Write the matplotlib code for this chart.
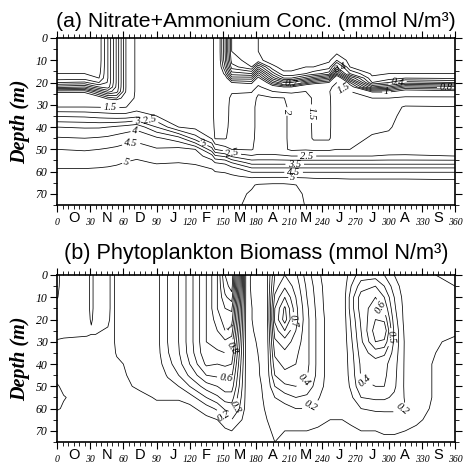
import numpy as np
import matplotlib
matplotlib.use('Agg')
import matplotlib.pyplot as plt
from matplotlib.ticker import MultipleLocator
from matplotlib.transforms import blended_transform_factory

# ---------------- data ----------------
months = ['O', 'N', 'D', 'J', 'F', 'M', 'A', 'M', 'J', 'J', 'A', 'S']
day_ticks = [0, 30, 60, 90, 120, 150, 180, 210, 240, 270, 300, 330, 360]
depth_ticks = [0, 10, 20, 30, 40, 50, 60, 70]

# (a) nitrate + ammonium : one profile per day, values at depth_a
depth_a = [0, 6, 10, 13, 16, 18, 20, 22, 24, 27, 31, 35, 40, 45, 50, 53, 56, 59, 62, 66, 70, 75]
days_a = [0, 25, 38, 46, 54, 62, 72, 90, 110, 125, 140, 143, 152, 158, 176, 182,
          195, 205, 212, 225, 232, 246, 253, 265, 285, 300, 315, 360]
nitrate = [
    [0.04,0.04,0.05,0.07,0.10,0.14,0.30,0.55,0.95,1.25,1.50,2.45,3.50,4.05,4.50,4.70,4.85,5.02,5.12,5.20,5.27,5.32],
    [0.04,0.04,0.05,0.07,0.10,0.15,0.32,0.60,0.95,1.25,1.50,2.40,3.45,4.00,4.45,4.68,4.85,5.02,5.12,5.20,5.27,5.32],
    [0.04,0.04,0.04,0.05,0.07,0.10,0.20,0.40,0.70,1.10,1.48,2.30,3.45,4.05,4.50,4.72,4.88,5.04,5.13,5.20,5.27,5.32],
    [0.30,0.30,0.30,0.30,0.30,0.30,0.31,0.35,0.55,0.95,1.45,2.25,3.50,4.10,4.55,4.78,4.92,5.05,5.14,5.20,5.27,5.32],
    [0.62,0.62,0.62,0.62,0.62,0.62,0.62,0.63,0.66,0.90,1.45,2.20,3.60,4.20,4.60,4.82,4.96,5.07,5.15,5.20,5.27,5.32],
    [0.98,0.98,0.98,0.98,0.98,0.98,0.98,0.98,0.99,1.10,1.48,2.20,3.70,4.30,4.68,4.90,5.01,5.10,5.16,5.22,5.28,5.33],
    [1.60,1.60,1.60,1.60,1.60,1.60,1.60,1.60,1.60,1.62,1.72,2.35,3.85,4.35,4.75,4.95,5.05,5.12,5.18,5.24,5.29,5.34],
    [1.65,1.65,1.65,1.65,1.65,1.65,1.65,1.65,1.65,1.65,1.72,2.00,3.00,4.10,4.55,4.80,4.98,5.10,5.16,5.22,5.28,5.33],
    [1.70,1.70,1.70,1.70,1.70,1.70,1.70,1.70,1.70,1.70,1.70,1.75,2.00,3.70,4.65,4.85,5.00,5.10,5.16,5.22,5.28,5.33],
    [1.72,1.72,1.72,1.72,1.72,1.72,1.72,1.72,1.72,1.72,1.72,1.75,1.85,2.75,4.50,4.75,4.97,5.08,5.15,5.22,5.28,5.33],
    [1.72,1.72,1.72,1.72,1.72,1.72,1.72,1.72,1.72,1.72,1.72,1.72,1.80,1.95,3.20,4.20,4.75,5.02,5.12,5.20,5.27,5.33],
    [1.30,1.30,1.30,1.30,1.30,1.30,1.30,1.30,1.30,1.30,1.30,1.30,1.35,1.45,2.50,3.60,4.50,4.95,5.10,5.20,5.27,5.33],
    [0.70,0.70,0.72,0.80,0.95,1.10,1.25,1.30,1.30,1.30,1.30,1.32,1.38,1.45,2.20,3.40,4.40,4.90,5.10,5.22,5.30,5.36],
    [0.20,0.20,0.25,0.35,0.55,0.75,1.00,1.25,1.45,1.60,1.65,1.65,1.65,1.70,2.00,2.90,4.00,4.80,5.05,5.25,5.35,5.40],
    [0.15,0.15,0.15,0.20,0.50,0.75,0.95,1.15,1.45,1.75,1.80,1.80,1.80,1.85,1.95,2.55,3.30,4.20,4.90,5.45,5.55,5.60],
    [0.10,0.10,0.12,0.50,0.85,1.05,1.30,1.60,1.90,2.10,2.20,2.20,2.20,2.20,2.20,2.60,3.30,4.20,4.90,5.55,5.65,5.70],
    [0.05,0.05,0.06,0.12,0.35,0.55,0.80,1.10,1.50,2.05,2.20,2.20,2.20,2.20,2.20,2.60,3.30,4.20,4.90,5.60,5.70,5.75],
    [0.05,0.05,0.05,0.07,0.12,0.30,0.60,1.00,1.40,2.02,2.15,2.15,2.15,2.15,2.10,2.55,3.30,4.20,4.90,5.60,5.70,5.75],
    [0.05,0.05,0.05,0.07,0.12,0.30,0.60,1.00,1.40,1.80,1.80,1.80,1.80,1.80,1.90,2.50,3.30,4.20,4.90,5.55,5.65,5.70],
    [0.05,0.05,0.06,0.10,0.20,0.45,0.80,1.20,1.50,1.80,1.80,1.80,1.80,1.80,1.95,2.50,3.30,4.20,4.90,5.40,5.45,5.48],
    [0.05,0.05,0.06,0.10,0.25,0.55,0.90,1.25,1.45,1.40,1.40,1.40,1.40,1.42,1.90,2.50,3.30,4.20,4.90,5.30,5.35,5.40],
    [0.05,0.05,0.08,0.15,0.35,0.70,1.00,1.30,1.45,1.40,1.40,1.40,1.40,1.42,1.90,2.50,3.30,4.20,4.90,5.25,5.30,5.35],
    [0.05,0.06,0.20,0.50,0.85,1.20,1.50,1.80,1.90,1.90,1.85,1.85,1.85,1.90,2.00,2.50,3.30,4.20,4.90,5.25,5.30,5.35],
    [0.05,0.05,0.06,0.10,0.30,0.60,0.90,1.10,1.50,1.80,1.80,1.80,1.80,1.85,2.00,2.50,3.30,4.20,4.90,5.20,5.28,5.33],
    [0.04,0.04,0.04,0.05,0.08,0.12,0.20,0.50,0.95,1.50,1.75,1.80,1.90,2.05,2.20,2.50,3.30,4.20,4.90,5.20,5.28,5.33],
    [0.04,0.04,0.04,0.05,0.10,0.15,0.30,0.60,0.95,1.50,1.80,1.85,1.95,2.10,2.25,2.55,3.30,4.20,4.90,5.20,5.28,5.33],
    [0.04,0.04,0.04,0.06,0.10,0.20,0.45,0.80,1.10,1.60,2.05,2.15,2.20,2.25,2.30,2.55,3.30,4.20,4.90,5.20,5.28,5.33],
    [0.04,0.04,0.04,0.06,0.10,0.18,0.40,0.75,1.05,1.60,2.02,2.10,2.15,2.20,2.30,2.50,3.30,4.20,4.90,5.15,5.25,5.30],
]

# (b) phytoplankton : one profile per day, values at depth_b
depth_b = [0, 5, 10, 15, 20, 25, 30, 35, 40, 45, 50, 55, 60, 65, 70, 75]
days_b = [0, 6, 27, 31, 35, 46, 50, 54, 75, 90, 94, 100, 110, 120, 135, 145, 152, 158,
          171, 180, 190, 197, 206, 216, 226, 236, 247, 258, 266, 275, 288, 296, 305, 315, 325, 360]
phyto = [
    [0.08,0.085,0.095,0.13,0.13,0.12,0.095,0.07,0.07,0.07,0.11,0.12,0.11,0.05,0.05,0.05],
    [0.13,0.13,0.13,0.13,0.13,0.12,0.09,0.07,0.07,0.07,0.08,0.105,0.09,0.05,0.05,0.05],
    [0.13,0.13,0.13,0.13,0.13,0.12,0.08,0.07,0.07,0.07,0.07,0.06,0.06,0.05,0.05,0.05],
    [0.08,0.08,0.08,0.08,0.09,0.11,0.08,0.07,0.07,0.07,0.07,0.06,0.06,0.05,0.05,0.05],
    [0.13,0.13,0.13,0.13,0.13,0.11,0.08,0.07,0.07,0.07,0.07,0.06,0.06,0.05,0.05,0.05],
    [0.13,0.13,0.13,0.13,0.12,0.09,0.07,0.07,0.07,0.07,0.07,0.06,0.06,0.05,0.05,0.05],
    [0.07,0.07,0.07,0.07,0.07,0.07,0.07,0.07,0.07,0.07,0.06,0.06,0.06,0.05,0.05,0.05],
    [0.13,0.13,0.13,0.13,0.13,0.13,0.13,0.11,0.08,0.07,0.06,0.06,0.06,0.05,0.05,0.05],
    [0.15,0.15,0.15,0.15,0.15,0.15,0.15,0.15,0.15,0.14,0.12,0.07,0.06,0.05,0.05,0.05],
    [0.16,0.16,0.16,0.16,0.16,0.16,0.16,0.16,0.16,0.15,0.14,0.11,0.07,0.05,0.05,0.05],
    [0.22,0.22,0.22,0.22,0.22,0.22,0.22,0.21,0.19,0.16,0.14,0.11,0.07,0.05,0.05,0.05],
    [0.30,0.30,0.30,0.30,0.30,0.30,0.30,0.29,0.26,0.21,0.16,0.11,0.07,0.05,0.05,0.05],
    [0.40,0.40,0.40,0.40,0.40,0.40,0.40,0.39,0.36,0.30,0.20,0.11,0.07,0.05,0.05,0.05],
    [0.55,0.55,0.55,0.55,0.55,0.55,0.55,0.54,0.50,0.42,0.30,0.15,0.07,0.05,0.05,0.05],
    [0.80,0.80,0.80,0.80,0.80,0.80,0.80,0.78,0.72,0.60,0.45,0.30,0.15,0.07,0.05,0.05],
    [1.00,1.00,1.00,1.00,0.95,0.90,0.85,0.78,0.70,0.62,0.50,0.38,0.22,0.10,0.06,0.05],
    [1.30,1.25,1.18,1.10,1.05,1.00,0.88,0.80,0.72,0.62,0.55,0.45,0.32,0.16,0.08,0.05],
    [1.40,1.35,1.25,1.12,1.05,0.95,0.85,0.78,0.70,0.62,0.55,0.45,0.35,0.20,0.10,0.06],
    [0.07,0.07,0.07,0.07,0.07,0.07,0.07,0.07,0.07,0.07,0.07,0.07,0.07,0.06,0.05,0.05],
    [0.14,0.14,0.13,0.12,0.12,0.11,0.10,0.09,0.08,0.08,0.07,0.07,0.07,0.06,0.05,0.05],
    [0.18,0.18,0.18,0.17,0.17,0.16,0.16,0.15,0.15,0.14,0.13,0.12,0.11,0.10,0.09,0.08],
    [0.50,0.55,0.62,0.70,0.72,0.65,0.58,0.52,0.46,0.40,0.30,0.20,0.14,0.12,0.11,0.10],
    [0.60,0.68,0.80,0.92,0.95,0.80,0.65,0.58,0.53,0.47,0.38,0.25,0.16,0.12,0.10,0.09],
    [0.52,0.56,0.60,0.63,0.64,0.60,0.56,0.52,0.50,0.46,0.40,0.30,0.20,0.13,0.10,0.09],
    [0.35,0.38,0.40,0.42,0.43,0.43,0.43,0.43,0.43,0.41,0.36,0.28,0.20,0.13,0.10,0.08],
    [0.22,0.24,0.25,0.26,0.27,0.27,0.27,0.27,0.27,0.27,0.25,0.21,0.17,0.12,0.09,0.08],
    [0.13,0.13,0.13,0.13,0.14,0.14,0.14,0.14,0.14,0.14,0.14,0.13,0.12,0.10,0.08,0.07],
    [0.12,0.12,0.12,0.12,0.12,0.12,0.12,0.12,0.12,0.12,0.12,0.12,0.11,0.10,0.09,0.08],
    [0.25,0.30,0.35,0.35,0.32,0.30,0.28,0.26,0.25,0.24,0.22,0.18,0.14,0.11,0.09,0.08],
    [0.35,0.45,0.55,0.55,0.52,0.50,0.48,0.45,0.42,0.41,0.38,0.30,0.20,0.13,0.10,0.08],
    [0.35,0.50,0.60,0.65,0.70,0.75,0.70,0.55,0.45,0.42,0.40,0.32,0.22,0.14,0.10,0.08],
    [0.30,0.40,0.50,0.58,0.68,0.78,0.68,0.52,0.43,0.42,0.40,0.32,0.22,0.15,0.11,0.08],
    [0.20,0.25,0.30,0.32,0.35,0.38,0.38,0.36,0.34,0.33,0.32,0.28,0.22,0.15,0.11,0.08],
    [0.13,0.14,0.15,0.16,0.16,0.17,0.18,0.18,0.18,0.18,0.18,0.19,0.20,0.15,0.10,0.08],
    [0.12,0.13,0.14,0.14,0.14,0.13,0.12,0.12,0.12,0.12,0.12,0.12,0.12,0.11,0.09,0.07],
    [0.08,0.10,0.13,0.14,0.13,0.11,0.09,0.08,0.07,0.07,0.07,0.07,0.06,0.05,0.05,0.05],
]

levels_a = [0.1, 0.2, 0.3, 0.4, 0.5, 0.6, 0.7, 0.8, 0.9, 1.0, 1.5, 2.0, 2.5, 3.0, 3.5, 4.0, 4.5, 5.0, 5.5]
levels_b = [0.1, 0.2, 0.3, 0.4, 0.5, 0.6, 0.7, 0.8, 0.9, 1.0, 1.1, 1.2, 1.3]

# label positions (day, depth)
labels_a = [(48, 31.5), (84, 36), (72, 37.5), (70, 41), (67, 47), (62, 54.5), (132, 48),
            (158, 52), (205, 33), (230, 34), (258, 24), (212, 20.5), (256, 13.6),
            (308, 20), (352, 22.5), (298, 24.5), (226, 53.6), (215, 57), (214, 60), (213, 63.6)]
labels_b = [(155, 24), (158, 33), (153, 47), (158, 59), (150, 64), (215, 21), (226, 49),
            (231, 60), (288, 16), (278, 47.5), (312, 60), (302, 28)]

# ---------------- figure ----------------
fig = plt.figure(figsize=(4.65, 4.66), dpi=100)
ax1 = fig.add_axes([0.1226, 0.560, 0.856, 0.3585])
ax2 = fig.add_axes([0.1226, 0.0515, 0.856, 0.3584])

serif = 'Liberation Serif'
sans = 'Liberation Sans'


def style(ax, title, tpad, tsize):
    ax.set_xlim(0, 360)
    ax.set_ylim(75, 0)
    ax.set_xticks(day_ticks)
    ax.set_xticklabels([str(d) for d in day_ticks], fontfamily=serif, fontstyle='italic', fontsize=7)
    ax.xaxis.set_minor_locator(MultipleLocator(5))
    ax.set_yticks(depth_ticks)
    ax.set_yticklabels([str(d) for d in depth_ticks], fontfamily=serif, fontstyle='italic', fontsize=8.5)
    ax.yaxis.set_minor_locator(MultipleLocator(5))
    ax.tick_params(axis='both', which='major', direction='out', length=5, width=0.8,
                   top=True, right=True, labeltop=False, labelright=False, pad=2)
    ax.tick_params(axis='both', which='minor', direction='out', length=3, width=0.6,
                   top=True, right=True)
    ax.tick_params(axis='x', which='major', pad=4)
    for s in ax.spines.values():
        s.set_linewidth(1.2)
    tr = blended_transform_factory(ax.transData, ax.transAxes)
    for i, m in enumerate(months):
        ax.text(15 + 30 * i, -0.035, m, transform=tr, ha='center', va='top',
                fontfamily=sans, fontsize=10.5)
    ax.set_ylabel('Depth (m)', fontfamily=serif, fontstyle='italic', fontweight='bold',
                  fontsize=14.5, labelpad=4)
    ax.set_title(title, fontfamily=sans, fontsize=tsize, pad=tpad)


def fmt(v):
    return f'{v:g}'


cs1 = ax1.contour(days_a, depth_a, np.array(nitrate).T, levels=levels_a,
                  colors='k', linewidths=0.55)
t1 = ax1.clabel(cs1, fmt=fmt, fontsize=7.5, inline=True, inline_spacing=1, manual=labels_a)
for t in t1:
    t.set_fontfamily(serif)
    t.set_fontstyle('italic')

cs2 = ax2.contour(days_b, depth_b, np.array(phyto).T, levels=levels_b,
                  colors='k', linewidths=0.55)
t2 = ax2.clabel(cs2, fmt=fmt, fontsize=7.5, inline=True, inline_spacing=1, manual=labels_b)
for t in t2:
    t.set_fontfamily(serif)
    t.set_fontstyle('italic')

style(ax1, '(a) Nitrate+Ammonium Conc. (mmol N/m\u00b3)', 8, 15.3)
style(ax2, '(b) Phytoplankton Biomass (mmol N/m\u00b3)', 11.5, 15.6)

fig.savefig('out.png', dpi=100)
